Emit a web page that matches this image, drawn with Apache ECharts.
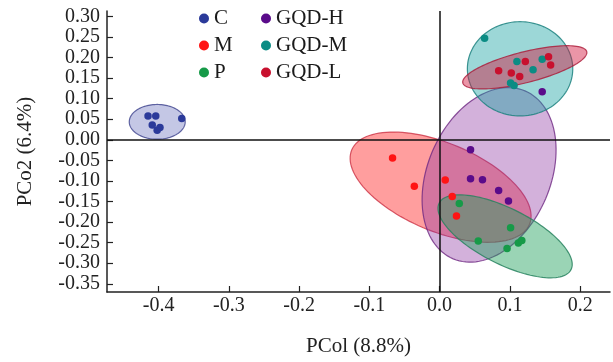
<!DOCTYPE html>
<html>
<head>
<meta charset="utf-8">
<script src="https://cdn.jsdelivr.net/npm/echarts@6/dist/echarts.min.js"></script>
<style>html,body{margin:0;padding:0;background:#fff;}#c{width:613px;height:362px;}</style>
</head>
<body>
<div id="c"></div>
<script>
// ---- data ----
const groupNames = ['C', 'M', 'P', 'GQD-H', 'GQD-M', 'GQD-L'];
const cPoints  = [[-0.415,0.058],[-0.404,0.058],[-0.409,0.036],[-0.402,0.023],[-0.398,0.030],[-0.367,0.052]];
const mPoints  = [[-0.067,-0.044],[-0.036,-0.113],[0.008,-0.098],[0.018,-0.138],[0.024,-0.185]];
const pPoints  = [[0.028,-0.155],[0.101,-0.214],[0.055,-0.246],[0.096,-0.264],[0.112,-0.251],[0.117,-0.245]];
const hPoints  = [[0.044,-0.024],[0.044,-0.095],[0.061,-0.097],[0.084,-0.123],[0.098,-0.149],[0.146,0.117]];
const gmPoints = [[0.064,0.247],[0.110,0.190],[0.133,0.170],[0.146,0.196],[0.101,0.138],[0.106,0.132]];
const glPoints = [[0.122,0.190],[0.084,0.168],[0.102,0.162],[0.114,0.154],[0.155,0.202],[0.158,0.182]];
// confidence ellipses: [centerX, centerY, axis1X, axis1Y, axis2X, axis2Y] (data units)
const cEllipse  = [-0.4019, 0.0436, 0.0398, 0, 0, -0.0422];
const mEllipse  = [0.0014, -0.1152, 0.1264, -0.0908, -0.0247, -0.0985];
const pEllipse  = [0.0932, -0.2347, 0.0938, -0.081, -0.0181, -0.0601];
const hEllipse  = [0.0704, -0.0853, 0.0511, 0.2041, 0.0805, -0.0579];
const gmEllipse = [0.1145, 0.1725, 0.075, 0, 0, -0.1145];
const glEllipse = [0.1212, 0.1761, 0.0882, 0.0381, 0.00545, -0.0362];
const xTicks = [-0.4, -0.3, -0.2, -0.1, 0.0, 0.1, 0.2];
const yTicks = [0.30, 0.25, 0.20, 0.15, 0.10, 0.05, 0.00, -0.05, -0.10, -0.15, -0.20, -0.25, -0.30, -0.35];
const xName = 'PCol (8.8%)';
const yName = 'PCo2 (6.4%)';

// ---- styles ----
const pointColors = ['#2b3a9a', '#ff1414', '#169a48', '#5a0b8a', '#0b8c84', '#c8102e'];
const fillColors = ['rgba(60,70,170,0.30)', 'rgba(255,40,40,0.45)', 'rgba(30,160,90,0.45)',
                    'rgba(140,50,160,0.38)', 'rgba(20,160,160,0.42)', 'rgba(210,20,60,0.45)'];
const strokeColors = ['rgba(60,65,140,0.8)', 'rgba(200,40,60,0.75)', 'rgba(40,130,95,0.85)',
                      'rgba(110,40,130,0.8)', 'rgba(30,130,128,0.85)', 'rgba(170,25,55,0.8)'];
const pointSets = [cPoints, mPoints, pPoints, hPoints, gmPoints, glPoints];
const ellipses = [cEllipse, mEllipse, hEllipse, pEllipse, gmEllipse, glEllipse];
const ellipseGroup = [0, 1, 3, 2, 4, 5];
const FONT = 'Liberation Serif';

function ellipseSeries(e, gi) {
  return {
    type: 'custom',
    name: 'ellipse-' + groupNames[gi],
    silent: true,
    z: 1,
    data: [e],
    renderItem: function (params, api) {
      const cx = api.value(0), cy = api.value(1), ux = api.value(2), uy = api.value(3), vx = api.value(4), vy = api.value(5);
      const pts = [];
      for (let i = 0; i < 120; i++) {
        const t = i / 120 * Math.PI * 2;
        pts.push(api.coord([cx + ux * Math.cos(t) + vx * Math.sin(t), cy + uy * Math.cos(t) + vy * Math.sin(t)]));
      }
      return {
        type: 'polygon',
        shape: { points: pts },
        style: { fill: fillColors[gi], stroke: strokeColors[gi], lineWidth: 1.2 }
      };
    }
  };
}

const series = [];
ellipses.forEach((e, i) => series.push(ellipseSeries(e, ellipseGroup[i])));
pointSets.forEach((pts, i) => {
  series.push({
    type: 'scatter', name: groupNames[i], data: pts, symbol: 'circle', symbolSize: 7.5, z: 3,
    itemStyle: { color: pointColors[i], opacity: 1 }
  });
});
series.push({
  type: 'line', name: 'zero', data: [], z: 2, silent: true,
  markLine: {
    silent: true, symbol: 'none', label: { show: false },
    lineStyle: { color: '#111', width: 1.5, type: 'solid' },
    emphasis: { disabled: true },
    data: [{ xAxis: 0 }, { yAxis: 0 }]
  }
});

const legendCommon = {
  orient: 'vertical', icon: 'circle', itemWidth: 10, itemHeight: 10, itemGap: 6,
  textStyle: { fontFamily: FONT, fontSize: 21, color: '#1a1a1a', lineHeight: 21 },
  selectedMode: false
};

const chart = echarts.init(document.getElementById('c'), null, { renderer: 'canvas' });
chart.setOption({
  animation: false,
  backgroundColor: '#fff',
  grid: { left: 107, right: 3, top: 11, bottom: 68 },
  legend: [
    Object.assign({ left: 194, top: 3, data: groupNames.slice(0, 3) }, legendCommon),
    Object.assign({ left: 256, top: 3, data: groupNames.slice(3) }, legendCommon)
  ],
  xAxis: {
    type: 'value', min: -0.4734, max: 0.2425,
    name: xName, nameLocation: 'middle', nameGap: 44,
    nameTextStyle: { fontFamily: FONT, fontSize: 21, color: '#222' },
    axisLine: { show: true, onZero: false, lineStyle: { color: '#222', width: 1.5 } },
    axisTick: { show: true, inside: true, length: 6, customValues: xTicks, lineStyle: { color: '#222', width: 1.2 } },
    axisLabel: { customValues: xTicks, margin: 6, fontFamily: FONT, fontSize: 20, lineHeight: 16, color: '#222',
                 hideOverlap: false, showMinLabel: true, showMaxLabel: true,
                 formatter: v => v.toFixed(1) },
    splitLine: { show: false }
  },
  yAxis: {
    type: 'value', min: -0.37, max: 0.313,
    name: yName, nameLocation: 'middle', nameGap: 71, nameRotate: 90,
    nameTextStyle: { fontFamily: FONT, fontSize: 21, color: '#222' },
    axisLine: { show: true, onZero: false, lineStyle: { color: '#222', width: 1.5 } },
    axisTick: { show: true, inside: true, length: 6, customValues: yTicks, lineStyle: { color: '#222', width: 1.2 } },
    axisLabel: { customValues: yTicks, margin: 7, fontFamily: FONT, fontSize: 20, lineHeight: 16, color: '#222',
                 hideOverlap: false, showMinLabel: true, showMaxLabel: true, interval: 0,
                 formatter: v => v.toFixed(2) },
    splitLine: { show: false }
  },
  series: series
});
</script>
</body>
</html>
